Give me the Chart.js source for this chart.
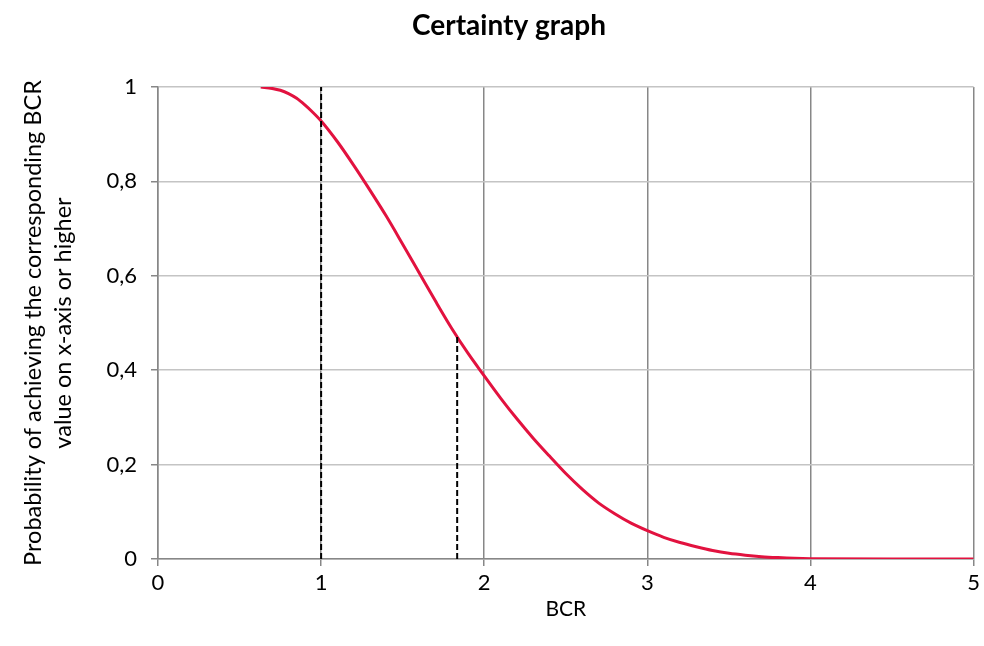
<!DOCTYPE html>
<html>
<head>
<meta charset="utf-8">
<script src="https://cdn.jsdelivr.net/npm/chart.js@4"></script>
<style>
  body { margin: 0; background: #fff; }
  #wrap { width: 984px; height: 646px; position: relative; }
</style>
</head>
<body>
<div id="wrap"><canvas id="certaintyChart"></canvas></div>
<script>
// BCR values (x) and probability of reaching that BCR or higher (y)
var bcrValues = [0.63, 0.7, 0.75, 0.8, 0.85, 0.9, 0.95, 1.0, 1.1, 1.2, 1.3, 1.4, 1.5, 1.6, 1.7, 1.8, 1.9, 2.0,
                 2.1, 2.2, 2.3, 2.4, 2.5, 2.6, 2.7, 2.8, 2.9, 3.0, 3.1, 3.2, 3.3, 3.4, 3.5,
                 3.6, 3.7, 3.8, 3.9, 4.0, 4.5, 5.0];
var probValues = [1.0, 0.997, 0.993, 0.986, 0.976, 0.962, 0.946, 0.928, 0.884, 0.834, 0.781, 0.726, 0.667, 0.607, 0.547, 0.489, 0.436, 0.388,
                  0.341, 0.297, 0.256, 0.218, 0.181, 0.148, 0.119, 0.096, 0.076, 0.06, 0.046, 0.035, 0.026, 0.018, 0.012,
                  0.008, 0.005, 0.003, 0.0015, 0.0007, 0, 0];

// dashed markers: x = 1 and the point where the curve is ~0.47
var markerX = [1, 1.834];
var markerTop = [1, 0.472];

var xTicks = [0, 1, 2, 3, 4, 5];
var yTicks = [0, 0.2, 0.4, 0.6, 0.8, 1];

var chartTitle = 'Certainty graph';
var fontName = "Lato, 'Open Sans', sans-serif";

var curve = [];
for (let i = 0; i < bcrValues.length; i++) {
  curve.push({ x: bcrValues[i], y: probValues[i] });
}

var datasets = [{
  data: curve,
  borderColor: '#e2123f',
  borderWidth: 3,
  pointRadius: 0,
  fill: false,
  cubicInterpolationMode: 'monotone',
  order: 2
}];

for (let i = 0; i < markerX.length; i++) {
  datasets.push({
    data: [{ x: markerX[i], y: 0 }, { x: markerX[i], y: markerTop[i] }],
    borderColor: '#000',
    borderWidth: 2,
    borderDash: [6, 3],
    pointRadius: 0,
    fill: false,
    order: 1
  });
}

// title drawn by hand so it sits where the original one does
var titlePlugin = {
  id: 'fixedTitle',
  afterDraw: function (chart) {
    var ctx = chart.ctx;
    ctx.save();
    ctx.font = "bold 28px " + fontName;
    ctx.fillStyle = '#000';
    ctx.textAlign = 'center';
    ctx.textBaseline = 'middle';
    ctx.fillText(chartTitle, 509, 26);
    ctx.restore();
  }
};

new Chart(document.getElementById('certaintyChart'), {
  type: 'line',
  data: { datasets: datasets },
  plugins: [titlePlugin],
  options: {
    responsive: true,
    maintainAspectRatio: false,
    animation: false,
    layout: { padding: { top: 87, right: 9, left: 0, bottom: 0 } },
    plugins: {
      legend: { display: false },
      tooltip: { enabled: false },
      title: { display: false }
    },
    scales: {
      x: {
        type: 'linear',
        min: 0,
        max: 5,
        afterBuildTicks: function (s) { s.ticks = xTicks.map(v => ({ value: v })); },
        afterFit: function (s) { s.height = 87; },
        ticks: {
          color: '#000',
          padding: 4,
          font: { family: fontName, size: 22 },
          callback: v => String(v).replace('.', ',')
        },
        grid: { color: '#878787', tickColor: '#878787', tickLength: 7, lineWidth: 1.5 },
        border: { color: '#878787', width: 1.5 },
        title: {
          display: true,
          text: 'BCR',
          color: '#000',
          font: { family: fontName, size: 21 },
          padding: { top: 0, bottom: 24 }
        }
      },
      y: {
        min: 0,
        max: 1,
        afterBuildTicks: function (s) { s.ticks = yTicks.map(v => ({ value: v })); },
        afterFit: function (s) { s.width = 158; },
        ticks: {
          color: '#000',
          padding: 14,
          font: { family: fontName, size: 22 },
          callback: v => String(v).replace('.', ',')
        },
        grid: { color: '#c4c4c4', tickColor: '#878787', tickLength: 7, lineWidth: 1.5 },
        border: { color: '#878787', width: 1.5 },
        title: {
          display: true,
          text: ['Probability of achieving the corresponding BCR', 'value on x-axis or higher'],
          color: '#000',
          font: { family: fontName, size: 23.5, lineHeight: 1.28 },
          padding: { top: 18, bottom: 0 }
        }
      }
    }
  }
});
</script>
</body>
</html>
